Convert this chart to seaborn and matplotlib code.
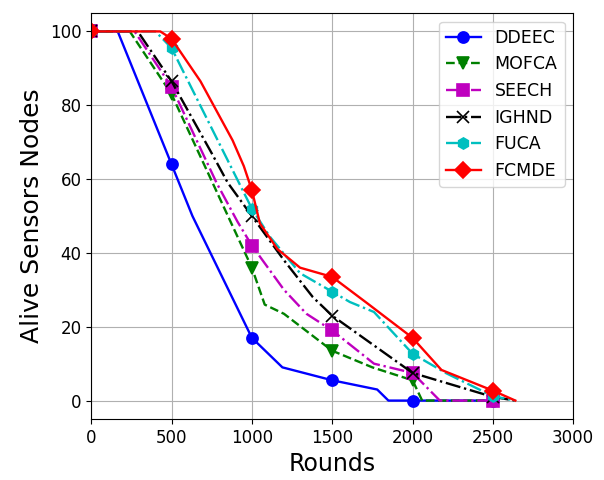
import numpy as np
import matplotlib
matplotlib.use("Agg")
import matplotlib.pyplot as plt
import seaborn as sns

# rounds / alive nodes for each protocol
ddeec_x = [0, 165, 500, 630, 1000, 1190, 1500, 1780, 1850, 2000, 2500]
ddeec_y = [100, 100, 64, 50, 17, 9, 5.5, 3, 0, 0, 0]

mofca_x = [0, 240, 500, 1000, 1080, 1200, 1350, 1500, 1750, 2000, 2060, 2500]
mofca_y = [100, 100, 83, 36, 26, 23.5, 18.5, 13.5, 9, 5.5, 0, 0]

seech_x = [0, 270, 500, 780, 910, 1000, 1200, 1340, 1500, 1760, 2000, 2170, 2500]
seech_y = [100, 100, 85, 59, 48.5, 42, 30, 23.5, 19, 10, 7.5, 0, 0]

ighnd_x = [0, 290, 500, 750, 850, 1000, 1200, 1380, 1500, 2000, 2500, 2640]
ighnd_y = [100, 100, 86.5, 67, 59, 50, 38, 28, 23, 7.5, 1, 0]

fuca_x = [0, 400, 500, 1000, 1110, 1300, 1500, 1610, 1760, 2000, 2210, 2500, 2640]
fuca_y = [100, 100, 95.5, 52, 44.5, 34.5, 29.5, 26.7, 24, 12.7, 7.4, 1.2, 0]

fcmde_x = [0, 430, 500, 680, 880, 950, 1000, 1050, 1160, 1300, 1500, 1720, 2000, 2180, 2500, 2640]
fcmde_y = [100, 100, 98, 86.5, 70.5, 63.5, 57, 48, 41, 36, 33.5, 26.3, 17, 8.3, 2.7, 0]

series = [
    ("DDEEC", ddeec_x, ddeec_y, "b", "-", "o"),
    ("MOFCA", mofca_x, mofca_y, "g", "--", "v"),
    ("SEECH", seech_x, seech_y, "m", "-.", "s"),
    ("IGHND", ighnd_x, ighnd_y, "k", "-.", "x"),
    ("FUCA", fuca_x, fuca_y, "c", "-.", "h"),
    ("FCMDE", fcmde_x, fcmde_y, "r", "-", "D"),
]

fig, ax = plt.subplots(figsize=(6.04, 4.8), dpi=100)
fig.subplots_adjust(left=0.151, right=0.949, top=0.973, bottom=0.127)

for name, xs, ys, col, ls, mk in series:
    # markers only every 500 rounds
    marks = [i for i, v in enumerate(xs) if v % 500 == 0]
    sns.lineplot(x=xs, y=ys, ax=ax, label=name, color=col, linestyle=ls,
                 marker=mk, markevery=marks, markersize=8,
                 markeredgecolor=col, markeredgewidth=1.2, linewidth=1.7,
                 estimator=None, sort=False)

ax.set_xlim(0, 3000)
ax.set_ylim(-5, 105)
ax.set_xticks(np.arange(0, 3001, 500))
ax.set_yticks(np.arange(0, 101, 20))
ax.tick_params(labelsize=12)
ax.grid(True)
ax.set_xlabel("Rounds", fontsize=17)
ax.set_ylabel("Alive Sensors Nodes", fontsize=18)
ax.legend(loc="upper right", fontsize=12.5)

fig.savefig("out.png", dpi=100)
